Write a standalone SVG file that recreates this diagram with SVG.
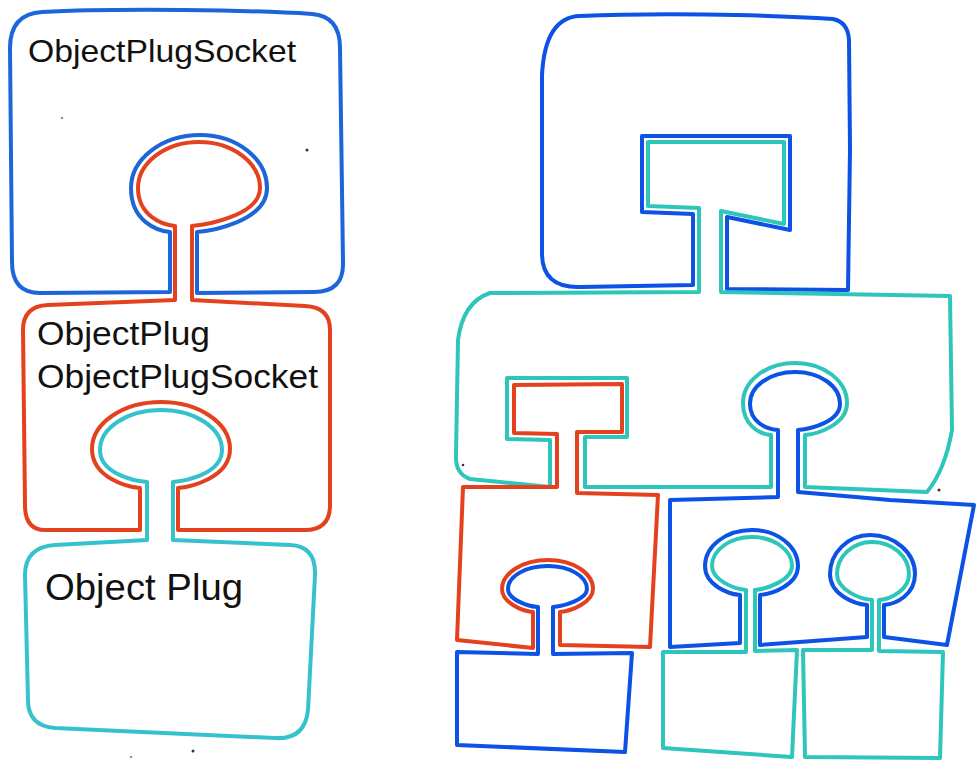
<svg xmlns="http://www.w3.org/2000/svg" width="976" height="765" viewBox="0 0 976 765">
<style>
.o{fill:none;stroke-width:4;stroke-linejoin:round;stroke-linecap:round}
.blue{stroke:#1c66d9}
.blue2{stroke:#0c52e4}
.red{stroke:#e4421f}
.cyan{stroke:#35c2cc}
.teal{stroke:#2ec6bb}
.t{font-family:"Liberation Sans","DejaVu Sans",sans-serif;fill:#111}
.dot{fill:#333}
</style>
<rect width="976" height="765" fill="#fff"/>

<g id="left-socket">
<path class="o blue" d="M 42,12 C 120,8 250,10 312,14 Q 340,16 340,48 L 343,262 Q 344,292 314,292 L 197,293 L 197,232 C 209,231 267,222 267,188 C 267,159 237,135 200,135 C 162,135 131,159 131,188 C 131,222 158,231 170,232 L 170,292 L 40,293 Q 12,293 12,262 L 10,48 Q 10,14 42,12 Z"/>
<text class="t" x="28" y="62" font-size="32" textLength="268" lengthAdjust="spacingAndGlyphs">ObjectPlugSocket</text>
</g>

<g id="left-plug-socket">
<path class="o red" d="M 48,305 L 175,300 L 175,226 C 163,225 138,216 138,188 C 138,163 165,142 199,142 C 233,142 260,163 260,188 C 260,216 204,225 192,226 L 192,300 L 305,306 Q 330,307 330,330 L 330,505 Q 330,530 305,530 L 178,530 L 178,488 C 190,487 230,478 230,449 C 230,423 199,402 161,402 C 123,402 92,423 92,449 C 92,478 128,487 140,488 L 140,530 L 45,530 Q 25,530 25,505 L 23,330 Q 23,306 48,305 Z"/>
<text class="t" x="37" y="345" font-size="34" textLength="173" lengthAdjust="spacingAndGlyphs">ObjectPlug</text>
<text class="t" x="37" y="388" font-size="34" textLength="281" lengthAdjust="spacingAndGlyphs">ObjectPlugSocket</text>
</g>

<g id="left-plug">
<path class="o cyan" d="M 55,545 L 147,540 L 147,482 C 135,481 100,474 100,450 C 100,428 127,410 161,410 C 195,410 222,428 222,450 C 222,474 185,481 173,482 L 173,540 L 290,545 Q 316,546 315,575 L 308,710 Q 305,740 275,738 L 55,728 Q 28,726 28,700 L 25,575 Q 25,547 55,545 Z"/>
<text class="t" x="45" y="600" font-size="36" textLength="198" lengthAdjust="spacingAndGlyphs">Object Plug</text>
</g>

<g id="r-top">
<path class="o blue2" d="M 580,16 C 650,13 760,14 833,19 Q 848,22 849,40 L 850,150 L 848,290 L 727,289 L 727,217 L 790,230 L 790,136 L 642,136 L 642,212 L 693,214 L 693,285 L 580,287 Q 543,288 542,255 L 542,75 Q 545,17 580,16 Z"/>
</g>

<g id="r-middle">
<path class="o teal" d="M 490,293 L 699,292 L 699,208 L 648,206 L 648,142 L 784,142 L 784,224 L 721,211 L 721,292 L 950,296 L 952,430 Q 945,470 927,492 L 805,487 L 805,435 C 817,434 847,425 847,403 C 847,381 824,363 795,363 C 766,363 743,381 743,403 C 743,425 759,434 771,435 L 771,487 L 585,487 L 585,437 L 627,437 L 627,378 L 507,378 L 507,439 L 550,440 L 550,487 L 470,479 Q 455,474 456,455 L 458,340 Q 463,302 490,293 Z"/>
</g>

<g id="r-red">
<path class="o red" d="M 463,487 L 557,487 L 557,434 L 514,433 L 514,385 L 622,384 L 622,432 L 577,432 L 577,493 L 658,495 L 650,647 L 560,645 L 560,612 C 572,611 593,602 593,589 C 593,573 573,560 548,560 C 523,560 502,573 502,589 C 502,602 521,611 533,612 L 533,648 L 457,640 Z"/>
</g>

<g id="r-blue-double">
<path class="o blue2" d="M 670,500 L 778,497 L 778,430 C 766,429 750,422 750,404 C 750,386 770,372 795,372 C 820,372 840,386 840,404 C 840,422 810,429 798,430 L 798,492 L 890,500 L 974,505 L 947,645 L 884,637 L 884,605 C 896,604 915,595 915,574 C 915,553 895,535 870,535 C 848,535 830,553 830,574 C 830,595 855,604 867,605 L 867,637 L 760,645 L 760,595 C 772,594 798,585 798,566 C 798,546 777,530 752,530 C 726,530 705,546 705,566 C 705,585 728,594 740,595 L 740,643 L 670,647 Z"/>
</g>

<g id="r-bottom-1">
<path class="o blue2" d="M 457,652 L 538,654 L 538,607 C 526,606 508,599 508,589 C 508,576 526,566 548,566 C 569,566 587,576 587,589 C 587,599 565,606 553,607 L 553,654 L 632,653 L 625,752 L 457,745 Z"/>
</g>

<g id="r-bottom-2">
<path class="o teal" d="M 663,652 L 746,652 L 746,590 C 734,589 712,580 712,566 C 712,550 730,537 752,537 C 774,537 792,550 792,566 C 792,580 767,589 755,590 L 755,651 L 797,650 L 792,757 L 663,748 Z"/>
</g>

<g id="r-bottom-3">
<path class="o teal" d="M 803,650 L 872,650 L 872,600 C 860,599 837,590 837,574 C 837,556 853,542 872,542 C 892,542 909,556 909,574 C 909,590 891,599 879,600 L 879,651 L 943,652 L 940,758 L 805,757 Z"/>
</g>

<g id="specks">
<circle class="dot" cx="62" cy="118" r="1.3" fill-opacity="0.5"/>
<circle class="dot" cx="307" cy="150" r="1.5"/>
<circle class="dot" cx="131" cy="757" r="1.3" fill-opacity="0.5"/>
<circle class="dot" cx="193" cy="751" r="1.5"/>
<circle class="dot" cx="463" cy="465" r="1.3"/>
<circle class="dot" cx="939" cy="490" r="1.5"/>
</g>
</svg>
